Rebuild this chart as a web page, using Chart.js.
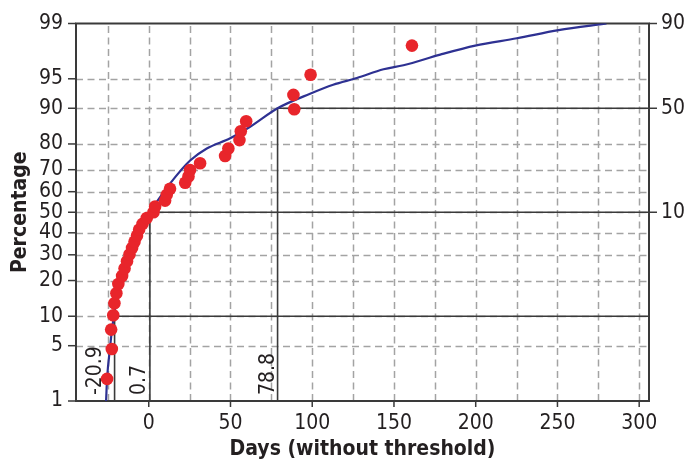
<!DOCTYPE html>
<html><head><meta charset="utf-8">
<script src="https://cdn.jsdelivr.net/npm/chart.js@4.4.1/dist/chart.umd.min.js"></script>
<style>html,body{margin:0;padding:0;background:#fff}#wrap{width:685px;height:462px;position:relative}</style>
</head><body><div id="wrap"><canvas id="c" width="685" height="462" style="width:685px;height:462px"></canvas></div>
<script>
// ---- data ----
const obsDays = [-25.5,-22.6,-23.0,-21.7,-21.0,-19.8,-18.6,-16.3,-14.8,-13.3,-11.8,-10.2,-8.7,-7.2,-5.9,-3.8,-1.2,2.9,3.9,10.0,11.0,13.0,22.3,24.3,25.3,31.4,46.7,48.7,55.5,56.3,59.6,89.0,88.5,99.0,161.0];
const obsPercent = [2.0,4.6,7.4,10.2,13.1,15.9,18.8,21.6,24.4,27.3,30.1,33.0,35.8,38.6,41.5,44.3,47.2,50.0,52.8,55.7,58.5,61.4,64.2,67.0,69.9,72.7,75.6,78.4,81.3,84.1,86.9,89.8,92.6,95.5,98.0];
const fitDays = [-26.1,-25.5,-23.7,-22.5,-21.2,-18.5,-13.5,-9.0,-4.0,0.7,4.9,13.0,25.3,35.5,49.8,62.0,78.8,98.7,112.8,127.3,143.6,155.8,178.3,199.7,225.2,250.7,280.0];
const fitPercent = [1,2,4.7,7.4,10.3,18.7,30,38.5,45,50,55.1,63.8,73.8,78.4,81.9,85.4,90,92.8,94.2,95.1,96.1,96.5,97.4,98.0,98.4,98.76,99];
const yTickPercent = [1,5,10,20,30,40,50,60,70,80,90,95,99];
const rightTickPercent = [99,90,50];
const rightTickLabels = ['90','50','10'];
const xGridValues = [-25,0,25,50,75,100,125,150,175,200,225,250,275,300];
const xTickLabels = [0,50,100,150,200,250,300];
const markerDays = [-20.9,0.7,78.8];
const markerPercent = [10,50,90];
const markerLabels = ['-20.9','0.7','78.8'];

// inverse normal CDF (probability scale)
function probit(p){
  const a=[-3.969683028665376e+01,2.209460984245205e+02,-2.759285104469687e+02,1.383577518672690e+02,-3.066479806614716e+01,2.506628277459239e+00];
  const b=[-5.447609879822406e+01,1.615858368580409e+02,-1.556989798598866e+02,6.680131188771972e+01,-1.328068155288572e+01];
  const c=[-7.784894002430293e-03,-3.223964580411365e-01,-2.400758277161838e+00,-2.549732539343734e+00,4.374664141464968e+00,2.938163982698783e+00];
  const d=[7.784695709041462e-03,3.224671290700398e-01,2.445134137142996e+00,3.754408661907416e+00];
  const pl=0.02425, ph=1-pl; let q,r;
  if(p<pl){q=Math.sqrt(-2*Math.log(p));return (((((c[0]*q+c[1])*q+c[2])*q+c[3])*q+c[4])*q+c[5])/((((d[0]*q+d[1])*q+d[2])*q+d[3])*q+1);}
  if(p<=ph){q=p-0.5;r=q*q;return (((((a[0]*r+a[1])*r+a[2])*r+a[3])*r+a[4])*r+a[5])*q/(((((b[0]*r+b[1])*r+b[2])*r+b[3])*r+b[4])*r+1);}
  q=Math.sqrt(-2*Math.log(1-p));return -(((((c[0]*q+c[1])*q+c[2])*q+c[3])*q+c[4])*q+c[5])/((((d[0]*q+d[1])*q+d[2])*q+d[3])*q+1);
}
const z = pct => probit(pct/100);

const FONT = "'DejaVu Sans Condensed','Liberation Sans Narrow',sans-serif";
const TEXT = '#231f20';
const FRAME = '#3a3a3a';
const GRID = '#a3a3a3';

const decorPlugin = {
  id: 'decor',
  beforeDatasetsDraw(chart){
    const {ctx, chartArea:{left,right,top,bottom}, scales:{x,y}} = chart;
    ctx.save();
    ctx.strokeStyle = GRID; ctx.lineWidth = 1.5; ctx.setLineDash([7,4.5]);
    yTickPercent.forEach(p=>{
      if(p===1||p===99) return;
      const py = Math.round(y.getPixelForValue(z(p)))+0.5;
      ctx.beginPath(); ctx.moveTo(left,py); ctx.lineTo(right,py); ctx.stroke();
    });
    xGridValues.forEach(v=>{
      const px = Math.round(x.getPixelForValue(v))+0.5;
      ctx.beginPath(); ctx.moveTo(px,bottom); ctx.lineTo(px,top); ctx.stroke();
    });
    ctx.setLineDash([]);
    ctx.strokeStyle = FRAME; ctx.lineWidth = 1.6;
    markerDays.forEach((d,i)=>{
      const px = x.getPixelForValue(d), py = y.getPixelForValue(z(markerPercent[i]));
      ctx.beginPath(); ctx.moveTo(px,bottom); ctx.lineTo(px,py); ctx.lineTo(right,py); ctx.stroke();
    });
    ctx.lineWidth = 2;
    ctx.strokeRect(left,top,right-left,bottom-top);
    ctx.lineWidth = 1.5;
    yTickPercent.forEach(p=>{
      const py = y.getPixelForValue(z(p));
      ctx.beginPath(); ctx.moveTo(left-8,py); ctx.lineTo(left,py); ctx.stroke();
    });
    rightTickPercent.forEach(p=>{
      const py = y.getPixelForValue(z(p));
      ctx.beginPath(); ctx.moveTo(right,py); ctx.lineTo(right+8,py); ctx.stroke();
    });
    xTickLabels.forEach(v=>{
      const px = x.getPixelForValue(v);
      ctx.beginPath(); ctx.moveTo(px,bottom); ctx.lineTo(px,bottom+6); ctx.stroke();
    });
    ctx.fillStyle = TEXT; ctx.font = "21px " + FONT;
    ctx.textAlign = 'left'; ctx.textBaseline = 'alphabetic';
    const gaps = [14,5,4];
    markerDays.forEach((d,i)=>{
      const px = x.getPixelForValue(d) - gaps[i];
      ctx.save(); ctx.translate(px, bottom-6); ctx.rotate(-Math.PI/2);
      ctx.fillText(markerLabels[i],0,0); ctx.restore();
    });
    ctx.restore();
  }
};

new Chart(document.getElementById('c'), {
  type: 'scatter',
  data: {
    datasets: [
      { label:'Observed', data: obsDays.map((d,i)=>({x:d,y:z(obsPercent[i])})),
        backgroundColor:'#e8252b', borderColor:'#e8252b', pointRadius:6.3, pointHoverRadius:6.3, borderWidth:0, order:0 },
      { label:'Fit', type:'line', data: fitDays.map((d,i)=>({x:d,y:z(fitPercent[i])})),
        borderColor:'#2e3192', borderWidth:2.2, pointRadius:0, fill:false, cubicInterpolationMode:'monotone', order:1 }
    ]
  },
  options: {
    responsive:false, animation:false, devicePixelRatio:1,
    layout:{padding:{top:20,left:0,right:0,bottom:0}},
    plugins:{legend:{display:false}, tooltip:{enabled:false}},
    scales:{
      x:{ type:'linear', min:-44.5, max:306,
        afterBuildTicks: s => { s.ticks = xGridValues.map(v=>({value:v})); },
        afterFit: s => { s.height = 61; },
        grid:{display:false, drawTicks:false}, border:{display:false},
        ticks:{ autoSkip:false, maxRotation:0, padding:10, color:TEXT, font:{family:FONT,size:21},
          callback: v => xTickLabels.includes(v) ? String(v) : '' },
        title:{display:true, text:'Days (without threshold)', color:TEXT,
          font:{family:FONT,size:21,weight:'bold',lineHeight:1}, padding:{top:0,bottom:2}}
      },
      y:{ type:'linear', position:'left', min:z(1), max:z(99),
        afterBuildTicks: s => { s.ticks = yTickPercent.map(p=>({value:z(p)})); },
        afterFit: s => { s.width = 76; },
        grid:{display:false, drawTicks:false}, border:{display:false},
        ticks:{ autoSkip:false, padding:13, color:TEXT, font:{family:FONT,size:21,lineHeight:1},
          callback: (v,i) => String(yTickPercent[i]) },
        title:{display:true, text:'Percentage', color:TEXT,
          font:{family:FONT,size:21,weight:'bold',lineHeight:1}, padding:{top:10,bottom:0}}
      },
      y2:{ type:'linear', position:'right', min:z(1), max:z(99),
        afterBuildTicks: s => { s.ticks = rightTickPercent.map(p=>({value:z(p)})); },
        afterFit: s => { s.width = 36; },
        grid:{display:false, drawTicks:false}, border:{display:false},
        ticks:{ autoSkip:false, padding:12, color:TEXT, font:{family:FONT,size:21,lineHeight:1},
          callback: (v,i) => rightTickLabels[i] }
      }
    }
  },
  plugins:[decorPlugin]
});
</script></body></html>
